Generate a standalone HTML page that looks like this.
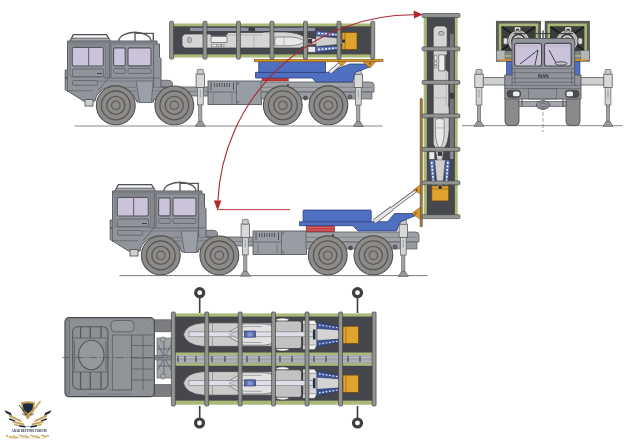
<!DOCTYPE html>
<html><head><meta charset="utf-8">
<style>
html,body{margin:0;padding:0;background:#fff;}
body{width:640px;height:440px;overflow:hidden;font-family:"Liberation Sans",sans-serif;}
svg{display:block;filter:blur(0.3px);}
</style></head>
<body>
<svg width="640" height="440" viewBox="0 0 640 440">
<defs>
  <g id="wheel">
    <circle r="19.4" fill="#8d8b89" stroke="#52504e" stroke-width="1.1"/>
    <circle r="14.4" fill="none" stroke="#5a5856" stroke-width="1.3"/>
    <circle r="9" fill="#8e8c8a" stroke="#5a5856" stroke-width="1.3"/>
    <circle r="4.3" fill="none" stroke="#5e5c5a" stroke-width="1.1"/>
  </g>
  <!-- side jack, centred at x=0, top at y=0, foot at y=56.5 -->
  <g id="jack">
    <rect x="-1.6" y="35" width="3.2" height="18" fill="#a4a4a4" stroke="#5a5c60" stroke-width="0.6"/>
    <path d="M-5,56.8 L-1.8,52 H1.8 L5,56.8 Z" fill="#9a9a9a" stroke="#55575c" stroke-width="0.7"/>
    <rect x="-2.9" y="17.5" width="5.8" height="18" fill="#d4d4d4" stroke="#5a5c60" stroke-width="0.7"/>
    <rect x="-4.2" y="4.5" width="8.4" height="13.5" fill="#d8d8d8" stroke="#5a5c60" stroke-width="0.8"/>
    <rect x="-3" y="0" width="6" height="4.8" rx="0.8" fill="#c8c8c8" stroke="#5a5c60" stroke-width="0.7"/>
    <line x1="0" y1="20" x2="0" y2="28" stroke="#777" stroke-width="0.6"/>
  </g>
  <!-- cab + front chassis (coords of top truck) -->
  <g id="cab">
    <!-- roof rack -->
    <path d="M70,41 L73.4,34.6 H106.6 L110.5,41" fill="#f4f4f4" stroke="#4e5054" stroke-width="1.3"/>
    <path d="M72,38.3 H108.5" stroke="#55575c" stroke-width="1.1"/>
    <path d="M71,40 H110" stroke="#91959b" stroke-width="1.6"/>
    <!-- roll bar -->
    <path d="M118.8,41.2 A16.1,8.9 0 0 1 151,41.2" fill="none" stroke="#55575c" stroke-width="1.4"/>
    <path d="M135,32.6 V41 M135,33.4 H153.3 V41" fill="none" stroke="#55575c" stroke-width="1.4"/>
    <!-- chassis beam front -->
    <rect x="160" y="87" width="50" height="9" fill="#9a9da2" stroke="#5a5c62" stroke-width="0.8"/>
    <line x1="160" y1="91.5" x2="210" y2="91.5" stroke="#6a6c70" stroke-width="0.6"/>
    <!-- rear fender bump -->
    <path d="M158,87 V80.3 H168 Q172.5,80.5 172.5,84 V87 Z" fill="#91959b" stroke="#5a5c62" stroke-width="0.8"/>
    <!-- cab body -->
    <path d="M67.5,41 H157 V44 H159.5 V57 L161,59 V87 H166 V99.5 H153.5 V102 H137 L134,96 A22,22 0 0 0 96,97 L95,101 H83.5 L65.2,89.5 V70 H67.5 Z" fill="#91959b" stroke="#5a5c62" stroke-width="1"/>
    <!-- windows -->
    <rect x="72.3" y="47.5" width="31" height="18.5" rx="1.5" fill="#cac3da" stroke="#55575c" stroke-width="1.1"/>
    <line x1="88.6" y1="47.5" x2="88.6" y2="66" stroke="#6a6670" stroke-width="1.1"/>
    <rect x="113.6" y="47.9" width="11.6" height="18" rx="1.5" fill="#cac3da" stroke="#55575c" stroke-width="1.1"/>
    <rect x="128" y="47.9" width="23" height="18" rx="1.5" fill="#cac3da" stroke="#55575c" stroke-width="1.1"/>
    <!-- panel lines -->
    <path d="M67.5,44 H157" stroke="#6a6c72" stroke-width="0.8"/>
    <path d="M68,42.5 H157" stroke="#6a6c72" stroke-width="0.6"/>
    <rect x="106.5" y="44" width="4.5" height="34" fill="#84878c"/>
    <path d="M70,46 H105.5 V76.5 H70 Z" fill="none" stroke="#6a6c72" stroke-width="0.7"/>
    <path d="M109.8,43 V77 L98,90.5" fill="none" stroke="#5e6066" stroke-width="0.9"/>
    <path d="M153.6,44 V87" stroke="#5e6066" stroke-width="0.9"/>
    <path d="M111.5,44 V78" stroke="#6a6c72" stroke-width="0.6"/>
    <rect x="113.6" y="68.6" width="11.6" height="4.8" rx="1" fill="none" stroke="#5e6066" stroke-width="0.8"/>
    <rect x="128" y="68.6" width="23" height="4.8" rx="1" fill="none" stroke="#5e6066" stroke-width="0.8"/>
    <rect x="72.5" y="69" width="31" height="8" rx="1" fill="none" stroke="#5e6066" stroke-width="0.8"/>
    <line x1="97" y1="73.5" x2="102" y2="73.5" stroke="#444" stroke-width="1"/>
    <rect x="72.5" y="80.5" width="25" height="4.7" rx="1" fill="none" stroke="#5e6066" stroke-width="0.8"/>
    <path d="M67.5,41 V92" stroke="#5e6066" stroke-width="0.8"/>
    <path d="M67,90.7 H93" stroke="#5e6066" stroke-width="0.7"/>
    <path d="M104,78 H159.5" stroke="#5e6066" stroke-width="0.8"/>
    <path d="M136,81 L139.5,102.5 H151.4 L153.2,81 Z" fill="#9ba0a8" stroke="#5e6066" stroke-width="0.8"/>
    <path d="M112,87.3 H136.5 M112,90.9 H137 M152.5,87.3 H166 M152.5,90.9 H166 M96,81 H136" stroke="#6a6c72" stroke-width="0.7"/>
    <circle cx="66.5" cy="78" r="1" fill="#555"/>
    <!-- step -->
    <rect x="85" y="99.5" width="8" height="6.5" fill="#d0d0d0" stroke="#55575c" stroke-width="0.9"/>
    <!-- wheels -->
    <use href="#wheel" x="115.8" y="105.4"/>
    <use href="#wheel" x="174.3" y="105.4"/>
    <!-- box -->
    <rect x="208" y="81" width="53.5" height="23.5" fill="#989da3" stroke="#5a5c62" stroke-width="0.9"/>
    <path d="M208,92 H236.5 M236.5,81 V104.5" stroke="#5e6066" stroke-width="0.8"/>
    <path d="M211,82.5 V90 M214.5,83 V87 M217,83 V87 M219.5,83 V87 M222,83 V87 M224.5,83 V87 M227,83 V87 M229.5,83 V87 M233.5,82.5 V90" stroke="#4a4c50" stroke-width="0.9"/>
    <path d="M213,93.5 V103.5 M232,93.5 V103.5" stroke="#6a6c70" stroke-width="0.7"/>
    <circle cx="238" cy="83.5" r="1" fill="none" stroke="#555" stroke-width="0.5"/>
    <circle cx="238" cy="102" r="1" fill="none" stroke="#555" stroke-width="0.5"/>
    <!-- jack 1 -->
    <use href="#jack" x="200.3" y="69.4"/>
  </g>
  <!-- rear chassis with wheels 3/4 and jack 2 (top-truck coords) -->
  <g id="rear">
    <path d="M261,82 H370 Q374,82 374,85 V92 H261 Z" fill="#9fa2a7" stroke="#5a5c62" stroke-width="0.8"/>
    <path d="M261,87.3 H372" stroke="#6a6c70" stroke-width="0.6"/>
    <path d="M261,92 H372 V99 H261 Z" fill="#989ba0" stroke="#5a5c62" stroke-width="0.7"/>
    <circle cx="288" cy="85" r="1.2" fill="#555"/>
    <use href="#wheel" x="282.8" y="105.3"/>
    <use href="#wheel" x="328.4" y="105.3"/>
    <circle cx="305.5" cy="98" r="2" fill="#555" stroke="#333" stroke-width="0.5"/>
    <circle cx="350" cy="97" r="2" fill="#666" stroke="#333" stroke-width="0.5"/>
    <use href="#jack" x="358.3" y="69.6"/>
  </g>
  <!-- side launcher (top truck coords) -->
  <g id="launcher">
    <rect x="171" y="23.5" width="203" height="34" fill="#aab878"/>
    <rect x="171" y="26.3" width="203" height="28.1" fill="#46484e"/>
    <rect x="190" y="27.8" width="58.7" height="3.2" fill="#9190a2"/>
    <rect x="248.7" y="27.8" width="6.3" height="3.2" fill="#3a3b40"/>
    <rect x="255" y="27.8" width="60" height="3.2" fill="#9190a2"/>
    <!-- missile body -->
    <path d="M184.5,34 H210 L211.5,35.5 H226 L228,32.5 H262 L265,32 H286 Q300,33 304,37 L317,39 V44 L304,46 L300,48 H184.5 L182,45.3 V36.7 Z" fill="#d4d4d4" stroke="#3a3a3a" stroke-width="0.7"/>
    <rect x="187.6" y="37.3" width="3.6" height="5.2" rx="1.5" fill="#c0c0c0" stroke="#555" stroke-width="0.6"/>
    <rect x="211" y="36.4" width="16" height="6" fill="#ececec" stroke="#444" stroke-width="0.6"/>
    <rect x="211.2" y="44.3" width="5.2" height="2.5" fill="#f0f0f0" stroke="#444" stroke-width="0.4"/>
    <rect x="218" y="44.3" width="2.5" height="2.5" fill="#f0f0f0" stroke="#444" stroke-width="0.4"/>
    <rect x="221.5" y="44.3" width="2.5" height="2.5" fill="#f0f0f0" stroke="#444" stroke-width="0.4"/>
    <path d="M228,35 H262 M254,35 V48 M271,35 V48" stroke="#9a9a9a" stroke-width="0.6"/>
    <path d="M275.5,37 H290 Q300,37.5 305,41.4 Q300,45.3 290,45.8 H275.5 Q273.5,41.4 275.5,37 Z" fill="#e8e8e8" stroke="#555" stroke-width="0.6"/>
    <path d="M284,37 V45.8" stroke="#888" stroke-width="0.5"/>
    <rect x="307.8" y="39" width="4.2" height="4.4" fill="#3a3b40"/>
    <rect x="308" y="46.6" width="7.6" height="5.6" fill="#e8e8e8" stroke="#444" stroke-width="0.5"/>
    <!-- nozzles -->
    <path d="M316,30.8 L343,33.5 V36.5 L316,36 Z M316,46.5 L343,46 V49 L316,52.2 Z" fill="#5a70b4" stroke="#22306a" stroke-width="0.5"/>
    <path d="M318,33.3 L341,35 M318,49.5 L341,47.6" stroke="#f2f5fb" stroke-width="1.6" stroke-dasharray="2 1.5"/>
    <path d="M316,36 L342,38.5 V44 L316,46.5 Z" fill="#cfcfcf" stroke="#555" stroke-width="0.5"/>
    <!-- orange block -->
    <rect x="342" y="32.5" width="15" height="16.9" fill="#e0a42e" stroke="#6a4a10" stroke-width="0.7"/>
    <line x1="345" y1="32.5" x2="345" y2="49.4" stroke="#6a4a10" stroke-width="0.5"/>
    <rect x="342" y="39.5" width="3" height="3" fill="#2e2e30"/>
    <!-- rings -->
    <g fill="#939690" stroke="#45474a" stroke-width="0.7">
      <rect x="169.6" y="21.3" width="3.9" height="37.8" rx="1"/>
      <rect x="203" y="21.3" width="3.9" height="37.8" rx="1"/>
      <rect x="236.5" y="21.3" width="3.9" height="37.8" rx="1"/>
      <rect x="270" y="21.3" width="3.9" height="37.8" rx="1"/>
      <rect x="303.5" y="21.3" width="3.9" height="37.8" rx="1"/>
      <rect x="337" y="21.3" width="3.9" height="37.8" rx="1"/>
      <rect x="370.8" y="21.3" width="3.9" height="37.8" rx="1"/>
    </g>
  </g>
</defs>

<!-- ground lines -->
<line x1="74.7" y1="126" x2="382.5" y2="126" stroke="#7a7a7a" stroke-width="0.9"/>
<line x1="462" y1="125.7" x2="622.5" y2="125.7" stroke="#7a7a7a" stroke-width="0.9"/>
<line x1="119.4" y1="275.6" x2="427.5" y2="275.6" stroke="#6a6a6a" stroke-width="0.9"/>

<!-- ================= TOP TRUCK ================= -->
<use href="#cab"/>
<use href="#rear"/>
<!-- blue platform -->
<g>
  <rect x="262" y="77.4" width="26.3" height="3.6" fill="#c43a3c" stroke="#7a2020" stroke-width="0.5"/>
  <path d="M255.5,72.3 H327.5 L350,64 H368 L371,66.5 L355,72.5 L352.5,82 H316 L312,78 H255.5 Z" fill="#4f6fc0" stroke="#2e3f78" stroke-width="0.8"/>
  <path d="M330,72.5 L341.5,62.5" stroke="#55575c" stroke-width="4.2"/>
  <path d="M330,72.5 L341.5,62.5" stroke="#e8e8e8" stroke-width="2.8"/>
  <rect x="258.8" y="61.6" width="66.7" height="10.7" fill="#4f6fc0" stroke="#2e3f78" stroke-width="0.8"/>
  <rect x="254.4" y="59.2" width="128.6" height="2.6" fill="#d6952c" stroke="#6a4a10" stroke-width="0.5"/>
  <path d="M337.5,61.6 H346 L342,66.4 Z" fill="#d6952c" stroke="#6a4a10" stroke-width="0.5"/>
  <path d="M362.7,61.6 H375.8 L370,68 Z" fill="#d6952c" stroke="#6a4a10" stroke-width="0.5"/>
  <circle cx="370" cy="63.6" r="1" fill="#6a4a10"/>
</g>
<use href="#launcher"/>

<!-- ================= VERTICAL LAUNCHER ================= -->
<rect x="420" y="98.2" width="2.5" height="128.8" rx="1" fill="#977b44" stroke="#6a5428" stroke-width="0.4"/>
<use href="#launcher" transform="matrix(0,1,-1,0,481.2,-156.1)"/>
<rect x="450.2" y="34" width="3.2" height="13" fill="#74767e"/>
<rect x="450.2" y="50.8" width="3.2" height="29.6" fill="#74767e"/>
<rect x="450.2" y="84.2" width="3.2" height="8.5" fill="#74767e"/>
<rect x="450.2" y="98.9" width="3.2" height="15" fill="#74767e"/>
<rect x="450.2" y="118" width="3.2" height="29.4" fill="#74767e"/>

<!-- ================= MIDDLE TRUCK ================= -->
<g transform="translate(45,150)">
  <use href="#cab"/>
  <use href="#rear"/>
</g>
<g>
  <rect x="306.2" y="225.7" width="28.4" height="6.1" fill="#c43a3c" stroke="#7a2020" stroke-width="0.5"/>
  <path d="M307,227.5 H334 M307,230 H334" stroke="#e0a0a0" stroke-width="0.5"/>
  <path d="M299.5,221.7 H387.5 L394.6,213.5 H413 L417,215 L400,222 L396.6,231 H358 L353,225.7 H299.5 Z" fill="#4f6fc0" stroke="#2e3f78" stroke-width="0.8"/>
  <path d="M387,212.2 L416.5,190.2" stroke="#55575c" stroke-width="3.4"/>
  <path d="M387,212.2 L416.5,190.2" stroke="#eeeeee" stroke-width="2"/>
  <path d="M374.5,221.5 L392,208.3" stroke="#55575c" stroke-width="5"/>
  <path d="M374.5,221.5 L392,208.3" stroke="#e4e4e4" stroke-width="3.5"/>
  <rect x="303.1" y="210" width="68.1" height="11.7" rx="1" fill="#4f6fc0" stroke="#2e3f78" stroke-width="0.8"/>
  <path d="M420.5,184.5 L413.5,190 L420.5,194 Z M420.5,207 L412,213.3 L420.5,219.6 Z" fill="#d6952c" stroke="#6a4a10" stroke-width="0.5"/>
  <circle cx="416.6" cy="190" r="0.9" fill="#6a4a10"/>
  <circle cx="415.8" cy="213.3" r="0.9" fill="#6a4a10"/>
</g>

<!-- ================= FRONT VIEW ================= -->
<g id="front">
  <!-- jacks & beams -->
  <rect x="483" y="77.5" width="24" height="7.5" fill="#d0d0d0" stroke="#5a5c60" stroke-width="0.8"/>
  <rect x="579" y="77.5" width="25" height="7.5" fill="#d0d0d0" stroke="#5a5c60" stroke-width="0.8"/>
  <use href="#jack" x="479" y="69.5"/>
  <use href="#jack" x="608" y="69.5"/>
  <!-- tires -->
  <rect x="505" y="95" width="14" height="30.5" rx="4" fill="#8c8a88" stroke="#55534f" stroke-width="0.9"/>
  <rect x="566" y="95" width="14" height="30.5" rx="4" fill="#8c8a88" stroke="#55534f" stroke-width="0.9"/>
  <!-- axle -->
  <rect x="519" y="101.5" width="47" height="5" fill="#a2a5aa" stroke="#5a5c60" stroke-width="0.7"/>
  <path d="M522,99 V107 M563,99 V107" stroke="#5a5c60" stroke-width="1.2"/>
  <ellipse cx="543" cy="105" rx="6.5" ry="4.3" fill="#91959b" stroke="#4a4c50" stroke-width="0.9"/>
  <ellipse cx="543" cy="105" rx="3.5" ry="2.2" fill="none" stroke="#5a5c60" stroke-width="0.6"/>
  <!-- blue platform sides -->
  <rect x="506.4" y="60" width="6" height="16" fill="#4f6fc0" stroke="#2e3f78" stroke-width="0.6"/>
  <rect x="574.5" y="60" width="5.5" height="16" fill="#4f6fc0" stroke="#2e3f78" stroke-width="0.6"/>
  <!-- launcher ends -->
  <g id="endbox">
    <rect x="496.3" y="21.2" width="44.3" height="40" fill="#5a5c58" stroke="#3a3c3a" stroke-width="0.6"/>
    <rect x="498.8" y="23.6" width="39.4" height="28" fill="#aab878"/>
    <rect x="501.3" y="26.2" width="34.4" height="25.2" fill="#3c3e3c"/>
    <path d="M502,27 L535,50 M535,27 L502,50" stroke="#1c1d1e" stroke-width="1.8"/>
    <circle cx="518.5" cy="41" r="9" fill="#3c3e3c" stroke="#d4d4d4" stroke-width="3"/>
    <circle cx="518.5" cy="41" r="9" fill="none" stroke="#333" stroke-width="0.4"/>
    <circle cx="518.5" cy="41" r="5" fill="#8a8c8a" stroke="#d8d8d8" stroke-width="1.6"/>
    <path d="M514.4,26.9 H520.7 V31.6 H519 V29 H516.1 V31.6 H514.4 Z" fill="#e8e8e8" stroke="#333" stroke-width="0.5"/>
    <rect x="503.4" y="37.9" width="4.2" height="6.3" rx="1.5" fill="#dedede" stroke="#444" stroke-width="0.5"/>
    <rect x="498.8" y="51.4" width="39.4" height="8" fill="#7e8486"/>
    <rect x="496.5" y="50.5" width="8.5" height="10" fill="#b4b6b8" stroke="#555" stroke-width="0.4"/>
    <rect x="505" y="55.1" width="33" height="1.6" fill="#aab878"/>
    <rect x="498.8" y="59.2" width="39.4" height="1.7" fill="#d6952c"/>
  </g>
  <use href="#endbox" transform="matrix(-1,0,0,1,1085.7,0)"/>
  <path d="M514,33.6 H573" stroke="#3a3c40" stroke-width="1"/>
  <path d="M543,30.5 V39" stroke="#55575c" stroke-width="1.6"/>
  <!-- cab -->
  <path d="M512,41 Q512,38.5 515,38.5 H571.5 Q574.7,38.5 574.7,41 V75 H581 V99 H504.8 V75 H512 Z" fill="#91959b" stroke="#55575c" stroke-width="0.9"/>
  <rect x="514.6" y="43.3" width="27" height="22.7" rx="2" fill="#cac3da" stroke="#4a4c50" stroke-width="1.2"/>
  <rect x="544.5" y="43.3" width="26.7" height="22.7" rx="2" fill="#cac3da" stroke="#4a4c50" stroke-width="1.2"/>
  <path d="M516,46 H540 M546,46 H570" stroke="#b8b2c8" stroke-width="1"/>
  <path d="M520,64 L538,50 M535,65 L538,50 M549,50 L556,63" stroke="#333" stroke-width="0.9"/>
  <ellipse cx="561" cy="63.5" rx="6" ry="1.7" fill="none" stroke="#333" stroke-width="0.8"/>
  <path d="M512,68.7 H574.7 M512,72.7 H574.7 M512,78.3 H574.7 M512,82.3 H574.7 M504.8,85.4 H581 M504.8,88.6 H581" stroke="#5e6066" stroke-width="0.7"/>
  <path d="M512,66 V86 M574.7,66 V86 M515,70 V84 M571.5,70 V84" stroke="#5e6066" stroke-width="0.8"/>
  <text x="543.3" y="77.6" font-size="4.6" text-anchor="middle" fill="#2e3036" font-family="Liberation Sans, sans-serif" font-weight="bold">MAN</text>
  <rect x="507" y="90.2" width="13.7" height="7.2" rx="3" fill="#4a4c50" stroke="#333" stroke-width="0.5"/>
  <rect x="513" y="91.4" width="6.5" height="4.8" rx="1.5" fill="#eeeeee"/>
  <rect x="565.3" y="90.2" width="13.7" height="7.2" rx="3" fill="#4a4c50" stroke="#333" stroke-width="0.5"/>
  <rect x="566.5" y="91.4" width="6.5" height="4.8" rx="1.5" fill="#eeeeee"/>
  <rect x="528.6" y="88.6" width="27.8" height="10.4" fill="none" stroke="#5e6066" stroke-width="0.7"/>
  <line x1="543" y1="100" x2="543" y2="132" stroke="#666" stroke-width="0.6" stroke-dasharray="4 2"/>
</g>

<!-- ================= BOTTOM TOP-VIEW ================= -->
<g id="bottom">
  <!-- chassis between cab and launcher -->
  <rect x="152" y="319.7" width="20" height="12" rx="2" fill="#7b7d80" stroke="#4a4c50" stroke-width="0.6"/>
  <rect x="152" y="384.5" width="20" height="12" rx="2" fill="#7b7d80" stroke="#4a4c50" stroke-width="0.6"/>
  <rect x="157" y="338" width="15" height="40" fill="#a0a3a8" stroke="#55575c" stroke-width="0.6"/>
  <path d="M158,345 L171,370 M158,370 L171,345 M157,349 H172 M157,366 H172 M164,338 V378" stroke="#55575c" stroke-width="0.7"/>
  <rect x="150" y="355.5" width="22" height="4.5" fill="#8a8c90" stroke="#55575c" stroke-width="0.5"/>
  <circle cx="163" cy="339.5" r="2.6" fill="#a8a8a8" stroke="#555" stroke-width="0.5"/>
  <circle cx="163" cy="376.5" r="2.6" fill="#a8a8a8" stroke="#555" stroke-width="0.5"/>
  <!-- cab -->
  <rect x="65" y="317.7" width="89.3" height="79" rx="4" fill="#8d9196" stroke="#45474c" stroke-width="1.2"/>
  <rect x="65.5" y="320" width="4.3" height="74" fill="#84878c" stroke="#5a5c60" stroke-width="0.5"/>
  <rect x="72.7" y="326.7" width="35.2" height="62.5" rx="5" fill="none" stroke="#55575c" stroke-width="1.1"/>
  <path d="M72.7,338 H107.9 M72.7,372 H107.9 M74.5,341 V370 M106,341 V370" stroke="#5a5c60" stroke-width="0.8"/>
  <path d="M80.6,327 V338 M90.3,327 V338 M101,327 V338 M80.6,372 V389 M90.3,372 V389 M101,372 V389" stroke="#55575c" stroke-width="1.3"/>
  <ellipse cx="91.3" cy="355" rx="12.7" ry="14.8" fill="#95989d" stroke="#55575c" stroke-width="1.1"/>
  <rect x="112.3" y="335" width="19.3" height="55" fill="#8f9499" stroke="#5a5c60" stroke-width="0.7"/>
  <path d="M131.6,335 H153.2 M131.6,345.5 H153.2 M131.6,358 H153.2 M131.6,369 H153.2 M131.6,380 H153.2 M143,335 V390 M131.6,335 V390" stroke="#5a5c60" stroke-width="0.8"/>
  <rect x="111" y="320.5" width="23" height="11.3" rx="4" fill="#94979c" stroke="#5a5c60" stroke-width="0.8"/>
  <circle cx="147.5" cy="323.5" r="1.3" fill="#bbb" stroke="#555" stroke-width="0.4"/>
  <path d="M109,390 H131 M88,394 H131" stroke="#5a5c60" stroke-width="0.6" stroke-dasharray="2 1"/>
  <line x1="62" y1="357.5" x2="175" y2="357.5" stroke="#4a4c50" stroke-width="0.6" stroke-dasharray="8 2 1.5 2"/>
  <!-- launcher boxes -->
  <rect x="173" y="313.4" width="202" height="42" fill="#aab878"/>
  <rect x="173" y="316.6" width="202" height="35.9" fill="#45474d"/>
  <rect x="173" y="362.7" width="202" height="42" fill="#aab878"/>
  <rect x="173" y="365.8" width="202" height="34.8" fill="#45474d"/>
  <rect x="173" y="355.1" width="202" height="8.2" fill="#a2a4aa"/>
  <path d="M174,357.3 H372 M174,361.2 H372" stroke="#c0c2c6" stroke-width="0.9"/>
  <path d="M178,356 V362 M185,356 V362 M196,356 V362 M212,356 V362 M225,356 V362 M247,356 V362 M259,356 V362 M280,356 V362 M292,356 V362 M314,356 V362 M326,356 V362 M348,356 V362 M360,356 V362" stroke="#4a4e60" stroke-width="1.3"/>
  <g id="tvMissile">
    <path d="M183.4,334.5 Q186,324 203,322.8 H276 V346.4 H203 Q186,345 183.4,334.5 Z" fill="#cbcbcb" stroke="#38383a" stroke-width="0.7"/>
    <path d="M212.5,323 V346.2" stroke="#777" stroke-width="0.6"/>
    <path d="M224.7,334.5 L243.5,323.8 H262 Q271.5,324 273,327 V342 Q271.5,345 262,345.2 H243.5 Z" fill="#e2e2e2" stroke="#4a4a4a" stroke-width="0.6"/>
    <path d="M230,334.5 L244,326.5 H262 M230,334.5 L244,342.5 H262" fill="none" stroke="#6a6a6a" stroke-width="0.5"/>
    <ellipse cx="282.5" cy="319.9" rx="6.5" ry="1.9" fill="#f4f4f4" stroke="#333" stroke-width="0.6"/>
    <ellipse cx="282.5" cy="349.2" rx="6.5" ry="1.9" fill="#f4f4f4" stroke="#333" stroke-width="0.6"/>
    <rect x="275" y="321" width="26.5" height="27.5" rx="2.5" fill="#c2c2c2" stroke="#38383a" stroke-width="0.7"/>
    <path d="M303,320.5 H314.5 L317,324 V345.5 L314.5,349.5 H303 Z" fill="#d6d6d6" stroke="#38383a" stroke-width="0.6"/>
    <path d="M303,320.5 H314.5 L317,324.5 H303 Z M303,345 H317 L314.5,349.5 H303 Z" fill="#f2f2f2" stroke="#444" stroke-width="0.4"/>
    <rect x="189" y="331.9" width="124" height="4.9" fill="#dfdfe9" stroke="#66666c" stroke-width="0.5"/>
    <path d="M229,334.4 L236,331.6 H238 V337.2 H236 Z" fill="#cfcfd8" stroke="#777" stroke-width="0.4"/>
    <rect x="244.4" y="331" width="11.3" height="6.2" fill="#5a6aa8" stroke="#2a3a70" stroke-width="0.6"/>
    <rect x="247.5" y="332.5" width="5" height="4" fill="#8494c8"/>
    <rect x="313" y="329.5" width="2.5" height="10" fill="#2a2e48"/>
    <path d="M317,327 L340,330 V339 L317,342 Z" fill="#d4d4d4" stroke="#444" stroke-width="0.5"/>
    <path d="M317,322 L341,327 V330 L317,328.5 Z M317,340.5 L341,339 V342 L317,347 Z" fill="#3f5496" stroke="#22306a" stroke-width="0.5"/>
    <path d="M319,325 L339,328 M319,344 L339,341" stroke="#eef2fa" stroke-width="1.2" stroke-dasharray="1.6 1.8"/>
    <rect x="343" y="326.3" width="15.5" height="17.2" fill="#e0a42e" stroke="#6a4a10" stroke-width="0.7"/>
    <line x1="346" y1="326.3" x2="346" y2="343.5" stroke="#6a4a10" stroke-width="0.5"/>
  </g>
  <use href="#tvMissile" y="48.8"/>
  <g fill="#939690" stroke="#45474a" stroke-width="0.7">
    <rect x="171.4" y="312" width="3.9" height="94" rx="1"/>
    <rect x="204.8" y="312" width="3.9" height="94" rx="1"/>
    <rect x="238.2" y="312" width="3.9" height="94" rx="1"/>
    <rect x="271.6" y="312" width="3.9" height="94" rx="1"/>
    <rect x="305.1" y="312" width="3.9" height="94" rx="1"/>
    <rect x="338.6" y="312" width="3.9" height="94" rx="1"/>
    <rect x="372.2" y="312" width="3.9" height="94" rx="1"/>
  </g>
  <g stroke="#3e3e3e" fill="#fff">
    <path d="M199.7,297 V313 M357.5,297 V313 M199.7,406 V419 M357.5,406 V419" stroke-width="1.6"/>
    <circle cx="199.7" cy="292.7" r="4" stroke-width="3.2"/>
    <circle cx="357.5" cy="292.7" r="4" stroke-width="3.2"/>
    <circle cx="199.5" cy="423" r="4" stroke-width="3.2"/>
    <circle cx="357.5" cy="423" r="4" stroke-width="3.2"/>
  </g>
</g>

<!-- RED ARC -->
<path d="M217.9,201 A195.2,195.2 0 0 1 415,14.8" fill="none" stroke="#a82a32" stroke-width="1.1"/>
<path d="M217.6,210.5 L213.8,200.5 L221.4,200.5 Z" fill="#b02a2e"/>
<path d="M423,14.6 L413.5,10.6 L414,18.6 Z" fill="#b02a2e"/>
<line x1="217.5" y1="209.6" x2="290" y2="209.6" stroke="#b02a2e" stroke-width="0.9"/>

<!-- LOGO -->
<g id="logo">
  <!-- wings left -->
  <path d="M4.5,410 L11,413 L12,416 L6,413 Z" fill="#1e2a40"/>
  <path d="M8.5,414.5 L21,420 L22,422.5 L9.5,417 Z" fill="#c6a257"/>
  <path d="M9,418 L15,420.2 L15.5,422 L9.5,420 Z" fill="#1e2a40"/>
  <path d="M12.5,420.5 L24,423.5 L24.5,425.5 L13,422.8 Z" fill="#c6a257"/>
  <path d="M14,423.5 L20,425 L20.5,426.5 L14.5,425.2 Z" fill="#c6a257"/>
  <path d="M19,425 L25.5,426 L25.5,427.8 L19.5,426.8 Z" fill="#1e2a40"/>
  <!-- wings right -->
  <path d="M51.5,410 L45,413 L44,416 L50,413 Z" fill="#1e2a40"/>
  <path d="M47.5,414.5 L35,420 L34,422.5 L46.5,417 Z" fill="#c6a257"/>
  <path d="M47,418 L41,420.2 L40.5,422 L46.5,420 Z" fill="#1e2a40"/>
  <path d="M43.5,420.5 L32,423.5 L31.5,425.5 L43,422.8 Z" fill="#c6a257"/>
  <path d="M42,423.5 L36,425 L35.5,426.5 L41.5,425.2 Z" fill="#c6a257"/>
  <path d="M37,425 L30.5,426 L30.5,427.8 L36.5,426.8 Z" fill="#1e2a40"/>
  <!-- shield -->
  <path d="M21,402.2 Q28,400.5 35,402.2 L34,411 L27.6,419.5 L22,411 Z" fill="#c6a257"/>
  <path d="M22.8,403.8 Q28,402.6 33.2,403.8 L32.4,409.5 L27.8,413.5 L23.6,409.5 Z" fill="#1e2a40"/>
  <path d="M27,419 L40.5,401" stroke="#c6a257" stroke-width="1.6"/>
  <path d="M19,405 L27,415" stroke="#1e2a40" stroke-width="0.9"/>
  <path d="M22,413.5 Q24,416 26,414.5 M30,414.5 Q32,416 34,413.5" fill="none" stroke="#1e2a40" stroke-width="0.7"/>
  <text x="28" y="426.6" font-size="2.6" text-anchor="middle" fill="#1e2a40" font-family="Liberation Serif, serif" font-weight="bold">ADF</text>
  <text x="29" y="432.1" font-size="3.7" text-anchor="middle" fill="#18223a" font-family="Liberation Serif, serif" font-weight="bold" textLength="35" lengthAdjust="spacingAndGlyphs">ARAB DEFENSE FORUM</text>
  <path d="M6,436.5 Q7,434.5 8,436.5 M9,437 H13 M14,435 V437.5 H18 M19,436 Q21,434.5 22,436.5 H25 M26,434.5 V437 H29 M30,436 Q32,434.5 33,436.5 H36 M37,435 V437.5 H40 M41,436 Q43,434 44,436.5 H47 M48,434.5 V437" fill="none" stroke="#c6a257" stroke-width="1.3" opacity="0.9"/>
  <path d="M8,438 H46" stroke="#d4b880" stroke-width="0.6" opacity="0.7"/>
</g>
</svg>
</body></html>
